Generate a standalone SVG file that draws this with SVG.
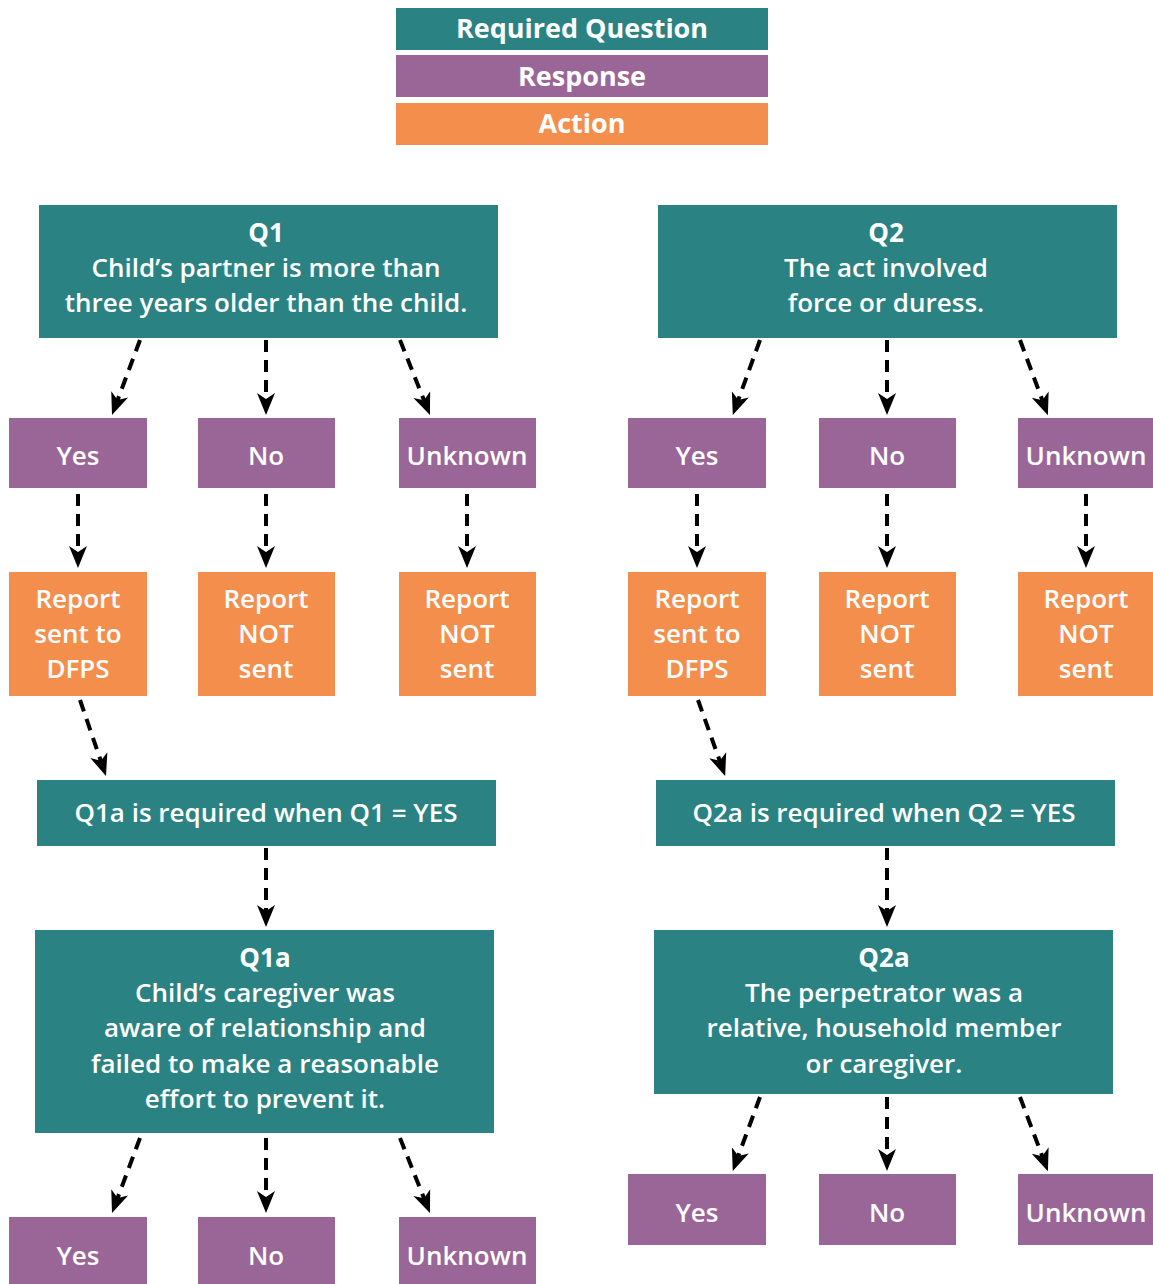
<svg xmlns="http://www.w3.org/2000/svg" width="1153" height="1284" viewBox="0 0 1153 1284">
<style>
.q{fill:#2a8382}
.r{fill:#9a6698}
.a{fill:#f48e4d}
text{font-family:"Open Sans","Liberation Sans",sans-serif;font-weight:600;fill:#fff;text-anchor:middle;font-size:26px}
.b{font-weight:700}
.lg{font-size:27px;font-weight:700}
.c{fill:none;stroke:#000;stroke-width:4;stroke-dasharray:12 8;marker-end:url(#ah)}
</style>
<defs>
<marker id="ah" markerUnits="userSpaceOnUse" viewBox="0 -10 24 20" refX="10" refY="0" markerWidth="24" markerHeight="20" orient="auto">
<path d="M0,-9 L22,0 L0,9 L6,0 Z" fill="#000"/>
</marker>
</defs>
<rect width="1153" height="1284" fill="#fff"/>
<g id="legend">
<rect class="q" x="396" y="8" width="372" height="42"/>
<text class="lg" x="582" y="38">Required Question</text>
<rect class="r" x="396" y="55" width="372" height="42"/>
<text class="lg" x="582" y="86">Response</text>
<rect class="a" x="396" y="103" width="372" height="42"/>
<text class="lg" x="582" y="133">Action</text>
</g>
<g id="connectors">
<path class="c" d="M140,340 L116.2,403.8"/>
<path class="c" d="M266,340 L266,403"/>
<path class="c" d="M400,340 L425.5,403.9"/>
<path class="c" d="M78,494 L78,556"/>
<path class="c" d="M266,494 L266,556"/>
<path class="c" d="M467,494 L467,556"/>
<path class="c" d="M80,700 L102.1,764.6"/>
<path class="c" d="M266,848 L266,915"/>
<path class="c" d="M140,1138 L116.2,1201.8"/>
<path class="c" d="M266,1138 L266,1201"/>
<path class="c" d="M400,1138 L425.5,1201.9"/>
<path class="c" d="M760,340 L736.9,403.8"/>
<path class="c" d="M887,340 L887,403"/>
<path class="c" d="M1020,340 L1043.7,403.9"/>
<path class="c" d="M697,494 L697,556"/>
<path class="c" d="M887,494 L887,556"/>
<path class="c" d="M1086,494 L1086,556"/>
<path class="c" d="M698,700 L721.1,764.6"/>
<path class="c" d="M887,848 L887,915"/>
<path class="c" d="M760,1097 L736.9,1159.8"/>
<path class="c" d="M887,1097 L887,1159"/>
<path class="c" d="M1020,1097 L1043.7,1159.9"/>
</g>
<g id="q1">
<rect class="q" x="39" y="205" width="459" height="133"/>
<text class="b" x="266" y="242">Q1</text>
<text x="266" y="277">Child’s partner is more than</text>
<text x="266" y="312">three years older than the child.</text>
</g>
<g id="q1-yes"><rect class="r" x="9" y="418" width="138" height="70"/><text x="78" y="465">Yes</text></g>
<g id="q1-no"><rect class="r" x="198" y="418" width="137" height="70"/><text x="266" y="465">No</text></g>
<g id="q1-unknown"><rect class="r" x="399" y="418" width="137" height="70"/><text x="467" y="465">Unknown</text></g>
<g id="q1-yes-action"><rect class="a" x="9" y="572" width="138" height="124"/><text x="78" y="608">Report</text><text x="78" y="643">sent to</text><text x="78" y="678">DFPS</text></g>
<g id="q1-no-action"><rect class="a" x="198" y="572" width="137" height="124"/><text x="266" y="608">Report</text><text x="266" y="643">NOT</text><text x="266" y="678">sent</text></g>
<g id="q1-unknown-action"><rect class="a" x="399" y="572" width="137" height="124"/><text x="467" y="608">Report</text><text x="467" y="643">NOT</text><text x="467" y="678">sent</text></g>
<g id="q1a-req"><rect class="q" x="37" y="780" width="459" height="66"/><text x="266" y="822">Q1a is required when Q1 = YES</text></g>
<g id="q1a">
<rect class="q" x="35" y="930" width="459" height="203"/>
<text class="b" x="265" y="967">Q1a</text>
<text x="265" y="1002">Child’s caregiver was</text>
<text x="265" y="1037">aware of relationship and</text>
<text x="265" y="1073">failed to make a reasonable</text>
<text x="265" y="1108">effort to prevent it.</text>
</g>
<g id="q1a-yes"><rect class="r" x="9" y="1217" width="138" height="70"/><text x="78" y="1265">Yes</text></g>
<g id="q1a-no"><rect class="r" x="198" y="1217" width="137" height="70"/><text x="266" y="1265">No</text></g>
<g id="q1a-unknown"><rect class="r" x="399" y="1217" width="137" height="70"/><text x="467" y="1265">Unknown</text></g>
<g id="q2">
<rect class="q" x="658" y="205" width="459" height="133"/>
<text class="b" x="886" y="242">Q2</text>
<text x="886" y="277">The act involved</text>
<text x="886" y="312">force or duress.</text>
</g>
<g id="q2-yes"><rect class="r" x="628" y="418" width="138" height="70"/><text x="697" y="465">Yes</text></g>
<g id="q2-no"><rect class="r" x="819" y="418" width="137" height="70"/><text x="887" y="465">No</text></g>
<g id="q2-unknown"><rect class="r" x="1018" y="418" width="137" height="70"/><text x="1086" y="465">Unknown</text></g>
<g id="q2-yes-action"><rect class="a" x="628" y="572" width="138" height="124"/><text x="697" y="608">Report</text><text x="697" y="643">sent to</text><text x="697" y="678">DFPS</text></g>
<g id="q2-no-action"><rect class="a" x="819" y="572" width="137" height="124"/><text x="887" y="608">Report</text><text x="887" y="643">NOT</text><text x="887" y="678">sent</text></g>
<g id="q2-unknown-action"><rect class="a" x="1018" y="572" width="137" height="124"/><text x="1086" y="608">Report</text><text x="1086" y="643">NOT</text><text x="1086" y="678">sent</text></g>
<g id="q2a-req"><rect class="q" x="656" y="780" width="459" height="66"/><text x="884" y="822">Q2a is required when Q2 = YES</text></g>
<g id="q2a">
<rect class="q" x="654" y="930" width="459" height="164"/>
<text class="b" x="884" y="967">Q2a</text>
<text x="884" y="1002">The perpetrator was a</text>
<text x="884" y="1037">relative, household member</text>
<text x="884" y="1073">or caregiver.</text>
</g>
<g id="q2a-yes"><rect class="r" x="628" y="1174" width="138" height="71"/><text x="697" y="1222">Yes</text></g>
<g id="q2a-no"><rect class="r" x="819" y="1174" width="137" height="71"/><text x="887" y="1222">No</text></g>
<g id="q2a-unknown"><rect class="r" x="1018" y="1174" width="137" height="71"/><text x="1086" y="1222">Unknown</text></g>
</svg>
